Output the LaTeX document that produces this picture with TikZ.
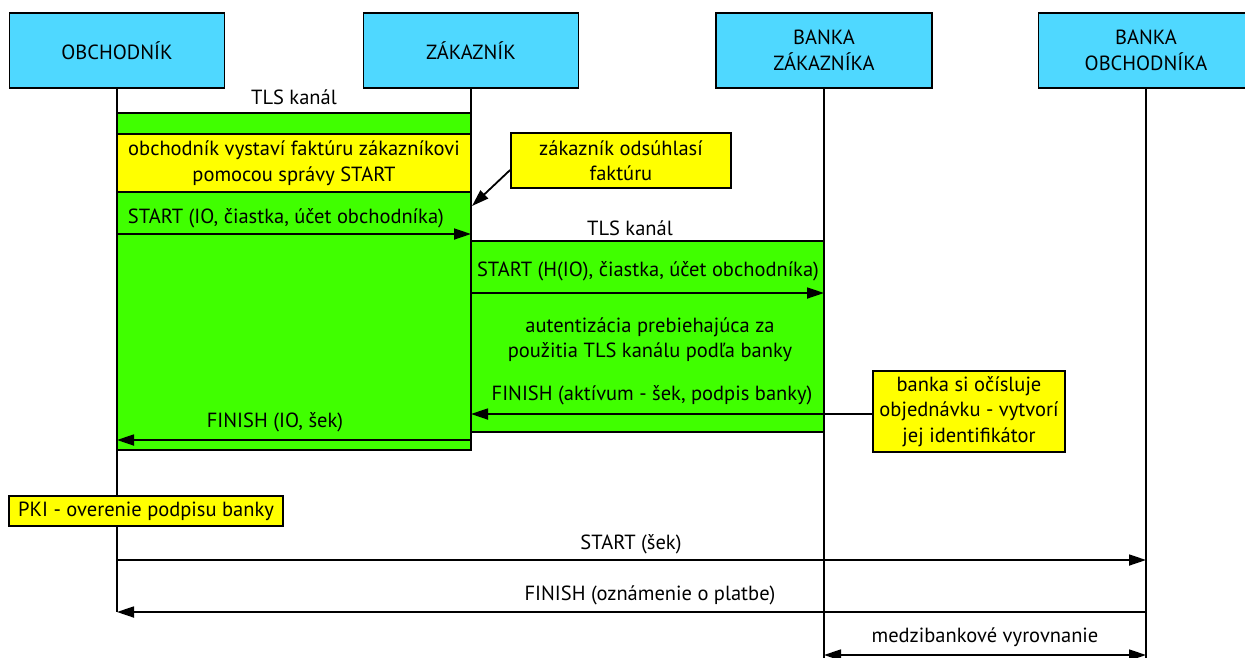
\documentclass[tikz,border=0pt]{standalone}
\usepackage{fontspec}
\setmainfont{PT Sans}
\usetikzlibrary{arrows.meta}
\definecolor{actorcyan}{HTML}{4FD8FF}
\definecolor{tlsgreen}{HTML}{40FF00}
\definecolor{noteyellow}{HTML}{FFFF00}
\newcommand\diafont{\fontsize{20.5}{25.5}\selectfont}

\begin{document}
\begin{tikzpicture}[x=1pt,y=-1pt,line width=1.8pt,
  actor/.style={draw,fill=actorcyan,minimum width=215pt,minimum height=75pt,
    align=center,font=\diafont,inner sep=0pt},
  note/.style={draw,fill=noteyellow,align=center,font=\diafont,inner sep=0pt},
  lbl/.style={font=\diafont,inner sep=0pt},
  tls/.style={draw,fill=tlsgreen},
  msg/.style={-{Triangle[length=17pt,width=11pt]}},
  both/.style={{Triangle[length=17pt,width=11pt]}-{Triangle[length=17pt,width=11pt]}}]
\useasboundingbox (0,0) rectangle (1245,657);
\clip (0,0) rectangle (1245,657);

% participants
\node[actor] (ob) at (117,50.5) {OBCHODNÍK};
\node[actor] (za) at (471,50.5) {ZÁKAZNÍK};
\node[actor,minimum width=216pt] (bz) at (824,50.5) {BANKA\\ZÁKAZNÍKA};
\node[actor] (bo) at (1146,50.5) {BANKA\\OBCHODNÍKA};

% lifeline ends
\coordinate (obEnd) at (117,612);
\coordinate (zaEnd) at (471,113);
\coordinate (bzEnd) at (824,670);
\coordinate (boEnd) at (1146,670);

% TLS channel merchant - customer
\node[lbl] (tls1) at (294,97) {TLS kanál};
\draw[tls] (117,113) rectangle (471,450);
\node[note,minimum width=354pt,minimum height=58pt] (inv) at (294,163)
  {obchodník vystaví faktúru zákazníkovi\\pomocou správy START};

% TLS channel customer - customer's bank
\node[lbl] (tls2) at (630,228) {TLS kanál};
\draw[tls] (471,241) rectangle (824,432);

% lifelines
\draw (ob.south) -- (obEnd);
\draw (za.south) -- (zaEnd);
\draw (bz.south) -- (bzEnd);
\draw (bo.south) -- (boEnd);

% START merchant -> customer
\coordinate (m1a) at (117,234);
\coordinate (m1b) at (471,234);
\draw[msg] (m1a) -- (m1b);
\node[lbl,anchor=west] (l1) at (127,218) {START (IO, čiastka, účet obchodníka)};

% customer approves the invoice
\node[note,minimum width=220pt,minimum height=55pt] (appr) at (621,160.5)
  {zákazník odsúhlasí\\faktúru};
\coordinate (apprTip) at (472,206);
\path (appr.west) ++(0,9.5) coordinate (apprFrom);
\draw[msg] (apprFrom) -- (apprTip);

% START customer -> bank
\coordinate (m2a) at (471,293);
\coordinate (m2b) at (824,293);
\draw[msg] (m2a) -- (m2b);
\node[lbl] (l2) at (648,271) {START (H(IO), čiastka, účet obchodníka)};

\node[lbl,align=center] (auth) at (650,339.5)
  {autentizácia prebiehajúca za\\použitia TLS kanálu podľa banky};

% FINISH bank -> customer
\node[note,minimum width=192pt,minimum height=81pt] (num) at (969,411.5)
  {banka si očísluje\\objednávku - vytvorí\\jej identifikátor};
\coordinate (m3a) at (824,414);
\coordinate (m3b) at (471,414);
\coordinate (numIn) at (873,414);
\draw (numIn) -- (m3a);
\draw[msg] (m3a) -- (m3b);
\node[lbl] (l3) at (652,395) {FINISH (aktívum - šek, podpis banky)};

% FINISH customer -> merchant
\coordinate (m4a) at (471,440);
\coordinate (m4b) at (117,440);
\draw[msg] (m4a) -- (m4b);
\node[lbl] (l4) at (275,422) {FINISH (IO, šek)};

% signature verification
\node[note,minimum width=274pt,minimum height=30pt] (pki) at (146,511)
  {PKI - overenie podpisu banky};

% merchant <-> merchant's bank
\coordinate (m5a) at (117,560);
\coordinate (m5b) at (1146,560);
\draw[msg] (m5a) -- (m5b);
\node[lbl] (l5) at (631,544) {START (šek)};

\coordinate (m6a) at (1146,612);
\coordinate (m6b) at (117,612);
\draw[msg] (m6a) -- (m6b);
\node[lbl] (l6) at (650,595) {FINISH (oznámenie o platbe)};

% interbank settlement
\coordinate (m7a) at (824,655);
\coordinate (m7b) at (1146,655);
\draw[both] (m7a) -- (m7b);
\node[lbl] (l7) at (985,637) {medzibankové vyrovnanie};
\end{tikzpicture}
\end{document}
